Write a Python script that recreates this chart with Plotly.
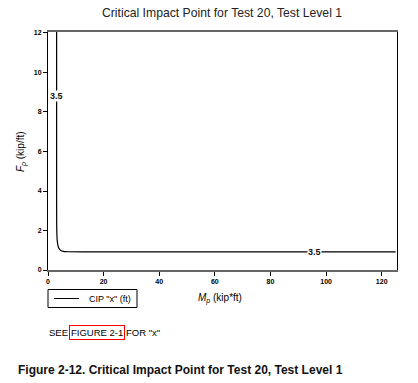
import plotly.graph_objects as go

# Contour CIP "x" = 3.5 ft
mp = [3.1, 3.1, 3.12, 3.2, 3.35, 3.6, 4.0, 4.6, 5.5, 7.0, 20, 60, 125]
fp = [12.1, 4.0, 2.4, 1.8, 1.45, 1.22, 1.08, 0.99, 0.94, 0.925, 0.92, 0.92, 0.92]
contour_label = "3.5"
label_pos = [(3.1, 8.8), (96, 0.92)]
series_name = 'CIP "x" (ft)'

x_ticks = [0, 20, 40, 60, 80, 100, 120]
y_ticks = [0, 2, 4, 6, 8, 10, 12]

W, H = 418, 383
L, R, T, B = 48, 21, 32, 113
PW, PH = W - L - R, H - T - B


def px(xp):
    return (xp - L) / PW


def py(yp):
    return (H - B - yp) / PH


fig = go.Figure()
fig.add_trace(go.Scatter(x=mp, y=fp, mode="lines", line=dict(color="black", width=1.2, shape="spline"),
                         name=series_name, showlegend=False, hoverinfo="skip"))

for (lx, ly) in label_pos:
    fig.add_annotation(x=lx, y=ly, text="<b>" + contour_label + "</b>", showarrow=False, bgcolor="white",
                       font=dict(family="Liberation Sans", size=9, color="#111"), borderpad=0)

fig.update_layout(
    width=W, height=H,
    margin=dict(l=L, r=R, t=T, b=B, autoexpand=False),
    paper_bgcolor="white", plot_bgcolor="white",
    title=dict(text="Critical Impact Point for Test 20, Test Level 1", x=222 / W, xanchor="center",
               y=1 - 13 / H, yanchor="middle", font=dict(family="Liberation Sans", size=12.2, color="#222")),
    font=dict(family="Liberation Sans", color="black"),
    xaxis=dict(range=[0, 125.5], tickvals=x_ticks, ticks="outside", ticklen=4, tickcolor="black",
               tickfont=dict(size=7, family="Liberation Sans", weight="bold"),
               showgrid=False, zeroline=False, showline=True, linecolor="#666", linewidth=2, mirror=True),
    yaxis=dict(range=[0, 12.05], tickvals=y_ticks, ticks="outside", ticklen=4, tickcolor="black",
               tickfont=dict(size=7, family="Liberation Sans", weight="bold"),
               showgrid=False, zeroline=False, showline=True, linecolor="black", linewidth=1, mirror=True),
    showlegend=False,
)

# legend box (drawn)
fig.add_shape(type="rect", xref="paper", yref="paper", x0=px(48), x1=px(137), y0=py(307.5), y1=py(289.5),
              line=dict(color="black", width=1), fillcolor="white")
fig.add_shape(type="line", xref="paper", yref="paper", x0=px(54), x1=px(79), y0=py(298.5), y1=py(298.5),
              line=dict(color="black", width=1))
fig.add_annotation(xref="paper", yref="paper", x=px(87), y=py(298.5), xanchor="left", yanchor="middle",
                   text=series_name, showarrow=False,
                   font=dict(family="Liberation Sans", size=9, color="black"))

# axis titles
fig.add_annotation(xref="paper", yref="paper", x=px(220), y=py(298), xanchor="center", yanchor="middle",
                   text="<i>M</i><sub><i>p</i></sub> (kip*ft)", showarrow=False,
                   font=dict(family="Liberation Sans", size=10, color="black"))
fig.add_annotation(xref="paper", yref="paper", x=px(21), y=py(152), xanchor="center", yanchor="middle",
                   text="<i>F</i><sub><i>p</i></sub> (kip/ft)", showarrow=False, textangle=-90,
                   font=dict(family="Liberation Sans", size=10, color="black"))

# note
note_font = dict(family="Liberation Sans", size=9.5, color="black")
fig.add_annotation(xref="paper", yref="paper", x=px(47), y=py(332), xanchor="left", yanchor="middle",
                   text="SEE", showarrow=False, font=note_font)
fig.add_annotation(xref="paper", yref="paper", x=px(68.5), y=py(332), xanchor="left", yanchor="middle",
                   text="FIGURE 2-1", showarrow=False, font=note_font, bordercolor="red", borderwidth=1,
                   borderpad=1)
fig.add_annotation(xref="paper", yref="paper", x=px(124), y=py(332), xanchor="left", yanchor="middle",
                   text='FOR "x"', showarrow=False, font=note_font)

fig.add_annotation(xref="paper", yref="paper", x=px(16), y=py(370), xanchor="left", yanchor="middle",
                   text="<b>Figure 2-12. Critical Impact Point for Test 20, Test Level 1</b>", showarrow=False,
                   font=dict(family="Liberation Sans", size=12, color="#111"))

fig.write_html("out.html", config={"displayModeBar": False},
               post_script="document.body.style.margin='0';document.body.style.overflow='hidden';")
